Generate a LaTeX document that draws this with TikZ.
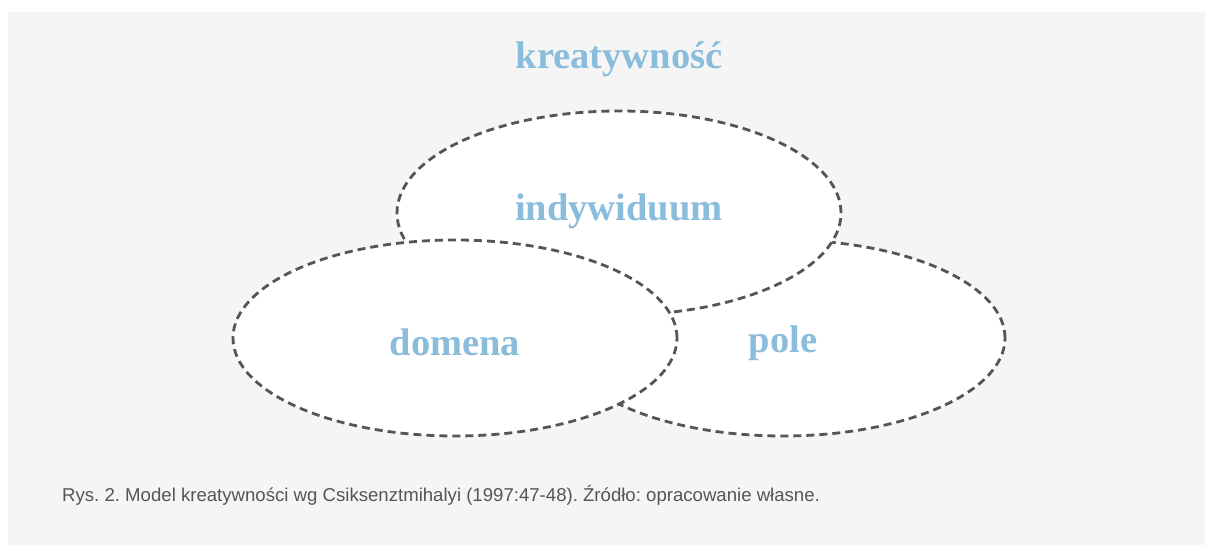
\documentclass[tikz,border=0pt]{standalone}
\usepackage{fontspec}
\setmainfont{Liberation Serif}
\newfontfamily\capfont{Liberation Sans}
\definecolor{bgray}{HTML}{F5F5F5}
\definecolor{lblue}{HTML}{8ABCDC}
\definecolor{dline}{HTML}{555555}
\definecolor{captxt}{HTML}{555555}
\frenchspacing
\begin{document}
\begin{tikzpicture}[x=1pt,y=1pt,
  circ/.style={draw=dline, fill=white, line width=2.8pt, dash pattern=on 8pt off 5pt},
  lbl/.style={text=lblue, font=\fontsize{38.5}{42}\selectfont\bfseries},
  captext/.style={text=captxt, font=\capfont\fontsize{18.6}{21}\selectfont, anchor=base west, inner sep=0pt}]
\useasboundingbox (0,0) rectangle (1205,545);
\fill[white] (0,0) rectangle (1205,545);
\fill[bgray] (8,0) rectangle (1205,533);
% ellipses (y = 545 - pixel y)
\draw[circ] (783,207) ellipse [x radius=222, y radius=98];
\draw[circ] (619,332) ellipse [x radius=222, y radius=102];
\draw[circ] (455,207) ellipse [x radius=222, y radius=98];
\node[lbl] (title) at (619,486) {kreatywność};
\node[lbl] (ind) at (619,334) {indywiduum};
\node[lbl] (dom) at (455,203) {domena};
\node[lbl] (pol) at (783,202) {pole};
\node[captext] (caption) at (62,43) {Rys. 2. Model kreatywności wg Csiksenztmihalyi (1997:47-48). Źródło: opracowanie własne.};
\end{tikzpicture}
\end{document}
